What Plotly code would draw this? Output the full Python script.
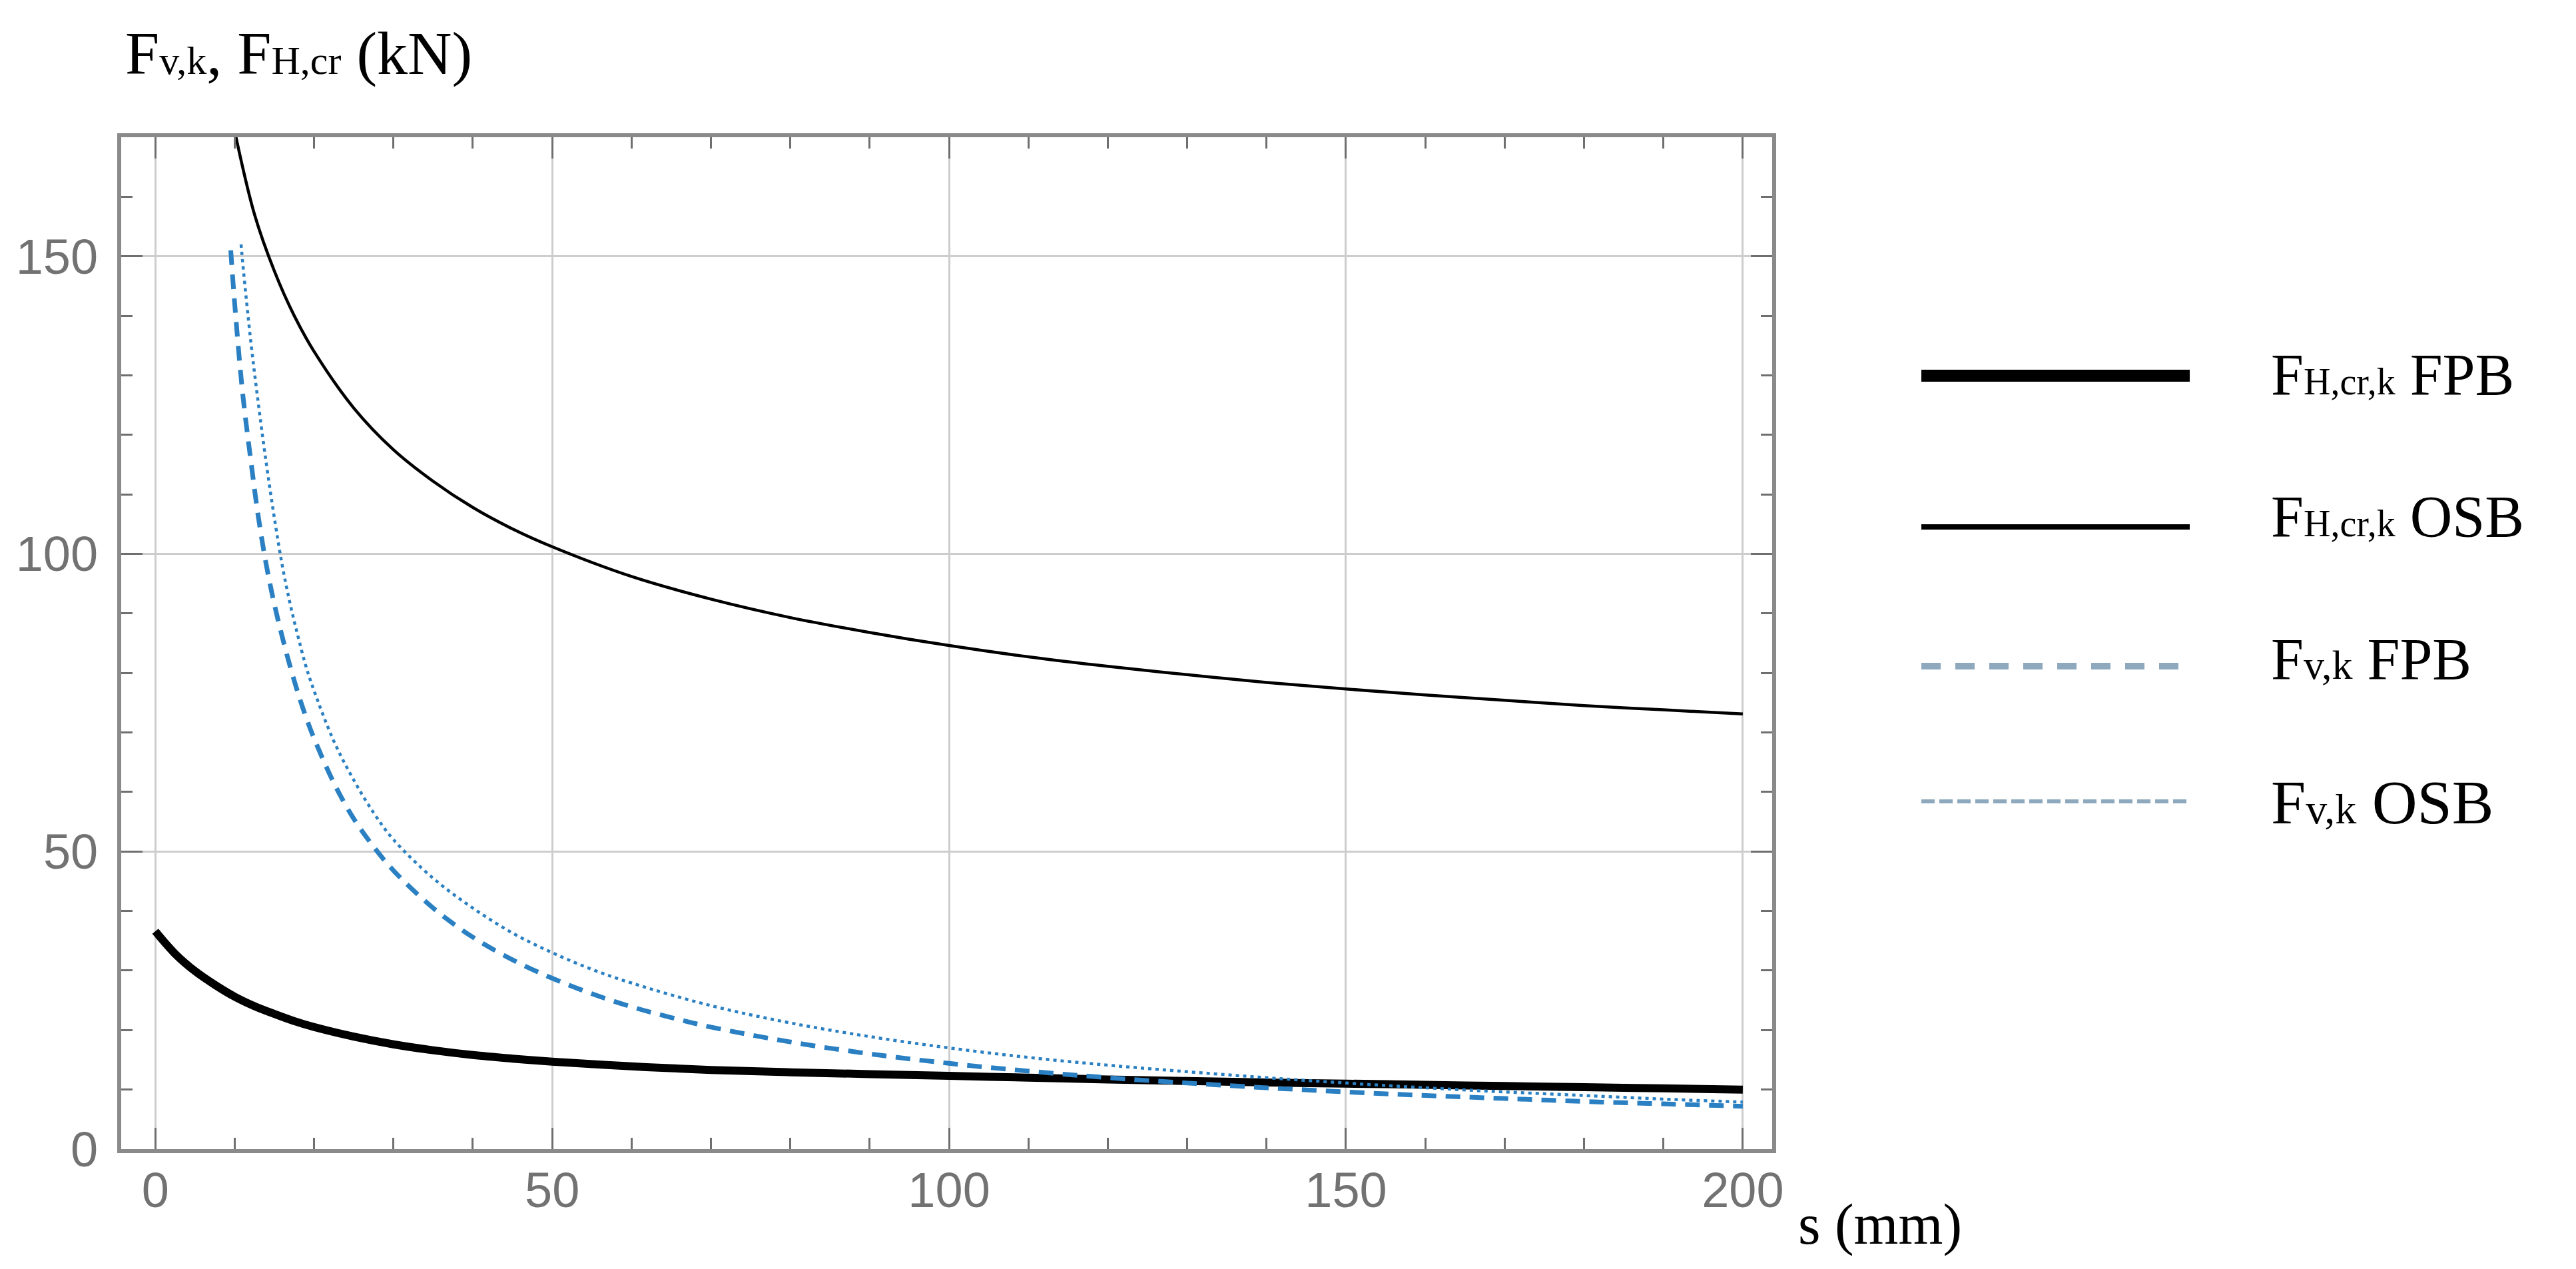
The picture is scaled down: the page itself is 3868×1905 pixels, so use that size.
import plotly.graph_objects as go

W, H = 3868, 1905
L, R, T, B = 174, 1215, 198, 188

# ---- data ----
# F_H,cr,k FPB (thick black)
s_h_fpb = [0, 2.5, 5, 7.5, 10, 12.5, 15, 17.5, 20, 25, 30, 35, 40, 45, 50, 60, 70, 80, 90,
           100, 110, 120, 130, 140, 150, 160, 170, 180, 190, 200]
f_h_fpb = [36.6, 32.8, 29.9, 27.6, 25.6, 24.0, 22.7, 21.5, 20.5, 18.9, 17.6, 16.6, 15.8, 15.2,
           14.7, 13.9, 13.3, 12.9, 12.6, 12.3, 12.0, 11.7, 11.45, 11.2, 11.0, 10.8, 10.6, 10.4,
           10.2, 10.0]

# F_H,cr,k OSB (thin black)
s_h_osb = [10, 12.5, 15, 17.5, 20, 25, 30, 35, 40, 45, 50, 60, 70, 80, 90, 100, 110, 120, 130,
           140, 150, 160, 170, 180, 190, 200]
f_h_osb = [171, 157, 147.5, 140, 134, 124.5, 117.5, 112.2, 107.8, 104.2, 101.2, 96.2, 92.4,
           89.3, 86.8, 84.6, 82.7, 81.1, 79.7, 78.4, 77.3, 76.3, 75.4, 74.5, 73.8, 73.1]

# F_v,k FPB (blue dashed)
s_v_fpb = [9.5, 10, 11, 12, 13, 14, 15, 16, 17, 18, 19, 20, 22.5, 25, 27.5, 30, 35, 40, 45, 50,
           55, 60, 65, 70, 80, 90, 100, 110, 120, 130, 140, 150, 160, 170, 180, 190, 200]
f_v_fpb = [151, 142, 127, 116, 106, 98, 91.5, 86, 81, 76.5, 72.5, 69, 61.5, 55.5, 50.8, 46.8,
           40.5, 35.6, 31.8, 28.7, 26.1, 23.9, 22.1, 20.5, 18.0, 16.0, 14.4, 13.1, 12.0, 11.1,
           10.3, 9.6, 9.0, 8.5, 8.0, 7.6, 7.2]

# F_v,k OSB (blue dotted)
s_v_osb = [10.8, 11, 12, 13, 14, 15, 16, 17, 18, 19, 20, 22.5, 25, 27.5, 30, 35, 40, 45, 50, 55,
           60, 70, 80, 90, 100, 110, 120, 130, 140, 150, 160, 170, 180, 190, 200]
f_v_osb = [152, 149, 136, 125, 115, 106, 98, 91.5, 86, 81, 77, 68.5, 62, 56.5, 52, 45.5, 40.5,
           36.3, 33, 30.2, 27.9, 24.1, 21.2, 18.9, 17.0, 15.4, 14.1, 13.0, 12.0, 11.1, 10.3, 9.6,
           9.0, 8.4, 7.9]

x_ticks = [0, 50, 100, 150, 200]
y_ticks = [0, 50, 100, 150]

BLUE = "#2a80c2"
LEG_BLUE = "#8ea8bd"
SERIF = "Liberation Serif, Times New Roman, serif"
SANS = "Liberation Sans, Arial, sans-serif"

fig = go.Figure()
fig.add_trace(go.Scatter(x=s_h_fpb, y=f_h_fpb, mode="lines",
                         line=dict(color="black", width=12, shape="spline", smoothing=1)))
fig.add_trace(go.Scatter(x=s_h_osb, y=f_h_osb, mode="lines",
                         line=dict(color="black", width=4.5, shape="spline", smoothing=1)))
fig.add_trace(go.Scatter(x=s_v_fpb, y=f_v_fpb, mode="lines",
                         line=dict(color=BLUE, width=7, dash="22px,14px", shape="spline",
                                   smoothing=1)))
fig.add_trace(go.Scatter(x=s_v_osb, y=f_v_osb, mode="lines",
                         line=dict(color=BLUE, width=4.5, dash="5px,6px", shape="spline",
                                   smoothing=1)))

axis_common = dict(
    showline=True, linecolor="#8a8a8a", linewidth=6, mirror="ticks",
    ticks="inside", ticklen=32, tickwidth=3, tickcolor="#6f6f6f",
    showgrid=True, gridcolor="#cdcdcd", gridwidth=3, zeroline=False,
    tickfont=dict(family=SANS, size=74, color="#727272"),
)

fig.update_layout(
    width=W, height=H,
    margin=dict(l=L, r=R, t=T, b=B),
    paper_bgcolor="white", plot_bgcolor="white",
    showlegend=False,
    xaxis=dict(range=[-4.3, 203.7], tickvals=x_ticks, ticklabelstandoff=-8,
               minor=dict(dtick=10, tick0=0, ticks="inside", ticklen=17, tickwidth=3,
                          tickcolor="#6f6f6f", showgrid=False),
               **axis_common),
    yaxis=dict(range=[0, 170], tickvals=y_ticks, ticklabelstandoff=14,
               minor=dict(dtick=10, tick0=0, ticks="inside", ticklen=17, tickwidth=3,
                          tickcolor="#6f6f6f", showgrid=False),
               **axis_common),
)

PW = W - L - R
PH = H - T - B


def px_(xpx):
    return (xpx - L) / PW


def py(ypx):
    return 1 - (ypx - T) / PH


annotations = [
    dict(text='F<span style="font-size:60px">v,k</span>, F<span style="font-size:60px">H,cr</span> (kN)',
         x=px_(178), y=py(72), xanchor="left", yanchor="middle",
         font=dict(family=SERIF, size=92, color="black")),
    dict(text="s (mm)", x=px_(2690), y=py(1830), xanchor="left", yanchor="middle",
         font=dict(family=SERIF, size=86, color="black")),
]

legend_items = [
    ('F<span style="font-size:56px">H,cr,k</span> FPB', 556, 554, dict(color="black", width=18), 88),
    ('F<span style="font-size:56px">H,cr,k</span> OSB', 783, 767, dict(color="black", width=8), 88),
    ('F<span style="font-size:62px">v,k</span> FPB', 992, 981,
     dict(color=LEG_BLUE, width=10, dash="29px,22px"), 88),
    ('F<span style="font-size:64px">v,k</span> OSB', 1195, 1196,
     dict(color=LEG_BLUE, width=6, dash="20px,7px"), 94),
]
shapes = []
for label, yl, yt, ln, fs in legend_items:
    shapes.append(dict(type="line", xref="paper", yref="paper",
                       x0=px_(2877), x1=px_(3280), y0=py(yl), y1=py(yl), line=ln))
    annotations.append(dict(text=label, x=px_(3400), y=py(yt), xanchor="left", yanchor="middle",
                            font=dict(family=SERIF, size=fs, color="black")))

for a in annotations:
    a["showarrow"] = False
    a["xref"] = "paper"
    a["yref"] = "paper"

fig.update_layout(annotations=annotations, shapes=shapes)
fig.write_html("out.html")
